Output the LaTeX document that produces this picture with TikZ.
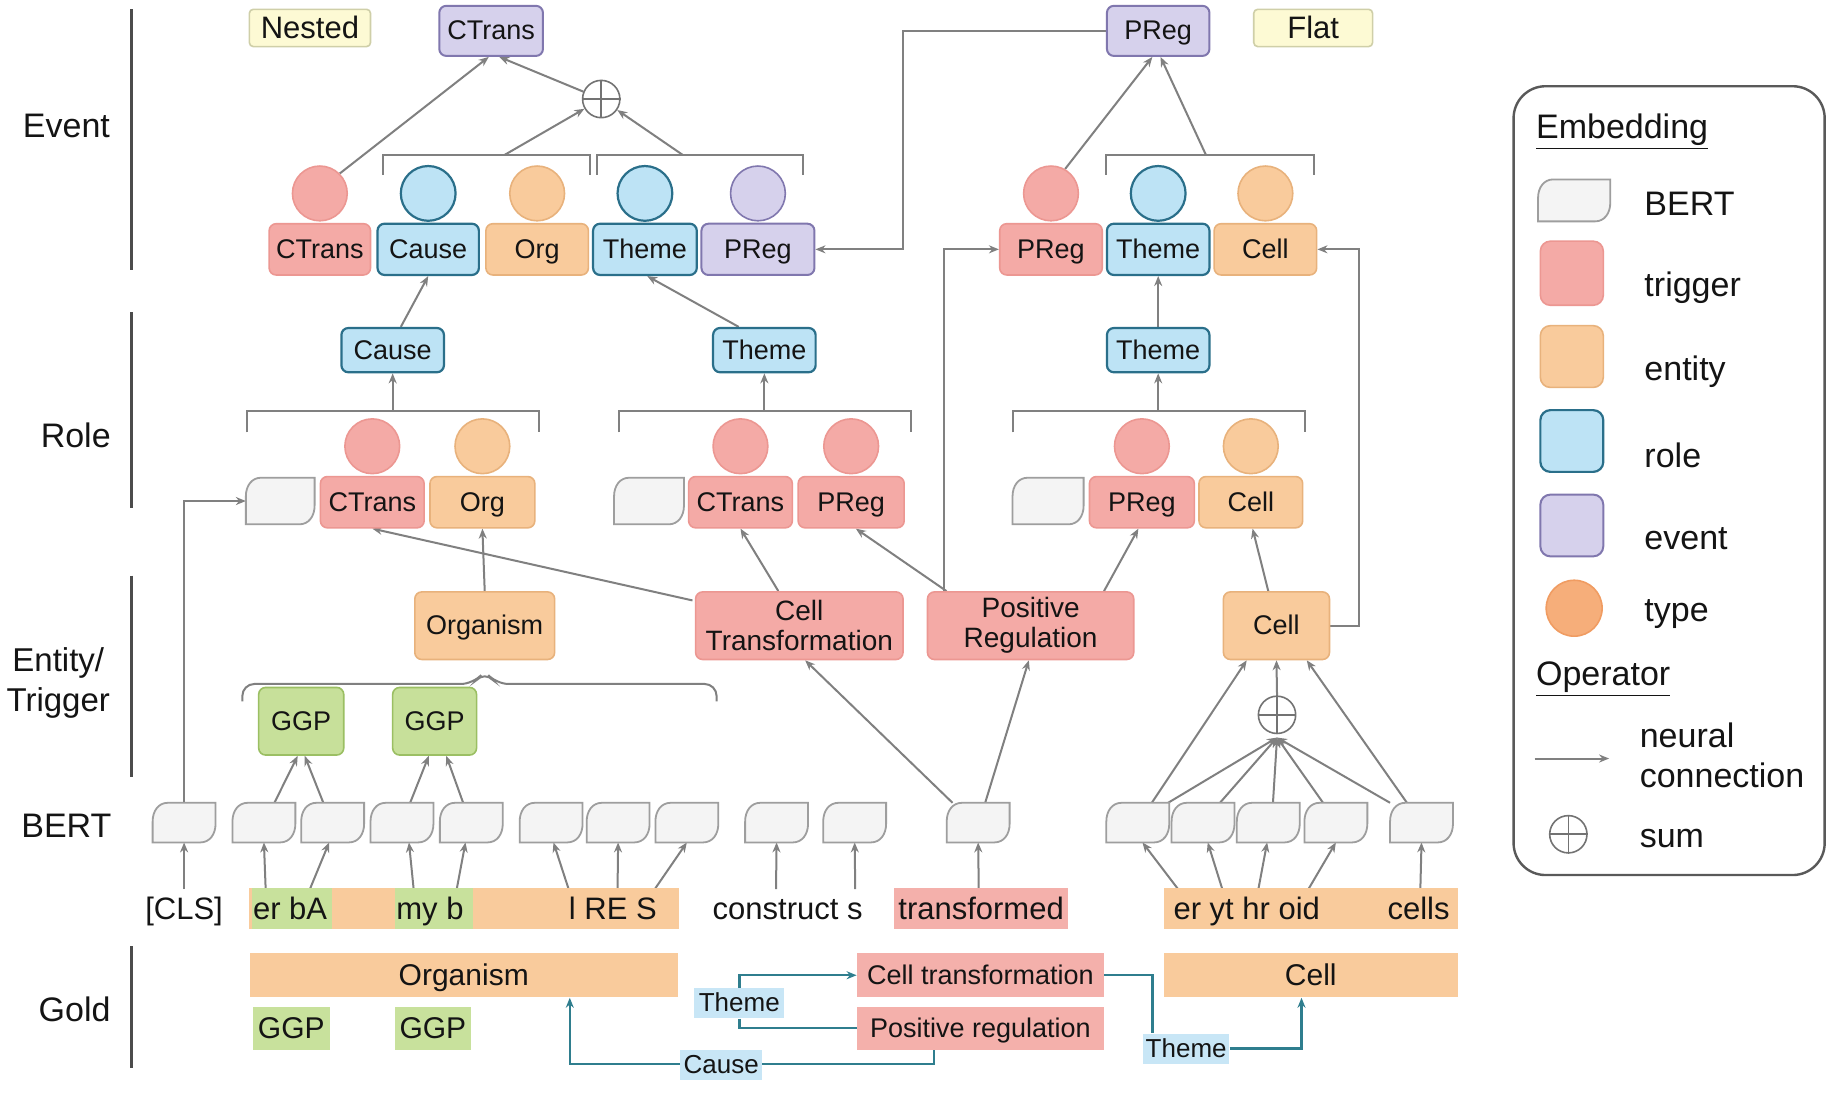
\documentclass[tikz,border=0pt]{standalone}
\usepackage{fontspec}
\setmainfont{Liberation Sans}
\usetikzlibrary{calc,arrows.meta}
\def\PX{0.5826pt}
\definecolor{pinkF}{HTML}{F4AAA6}
\definecolor{pinkD}{HTML}{EC9792}
\definecolor{orangeF}{HTML}{F9CB9C}
\definecolor{orangeD}{HTML}{E8B27C}
\definecolor{blueF}{HTML}{BDE3F5}
\definecolor{blueD}{HTML}{2A6F8A}
\definecolor{purpF}{HTML}{D6D1EC}
\definecolor{purpD}{HTML}{8077AE}
\definecolor{greenF}{HTML}{C7E09A}
\definecolor{greenD}{HTML}{9BBF63}
\definecolor{bertF}{HTML}{F4F4F4}
\definecolor{bertD}{HTML}{9E9E9E}
\definecolor{yellowF}{HTML}{FDFAD4}
\definecolor{yellowD}{HTML}{CFCFA8}
\definecolor{arrowC}{HTML}{808080}
\definecolor{tealC}{HTML}{2F7E8E}
\definecolor{labB}{HTML}{C8E6F6}
\definecolor{goldO}{HTML}{F9CB9C}
\definecolor{goldP}{HTML}{F4B0AB}
\definecolor{goldG}{HTML}{C8E19C}
\definecolor{typeO}{HTML}{F6AE7A}
\definecolor{typeOD}{HTML}{F09C62}
\pgfdeclarelayer{bg}
\pgfsetlayers{bg,main}
\tikzset{
  every node/.style={font=\fontsize{13.5}{15}\selectfont, text=black!92},
  sz/.style 2 args={minimum width=#1*\PX, minimum height=#2*\PX},
  tb/.style={text height=9.4pt, text depth=0.5pt},
  bx/.style={draw, rounded corners=3.5pt, line width=0.8pt, inner sep=0pt, tb},
  trig/.style={bx, fill=pinkF, draw=pinkD},
  ent/.style={bx, fill=orangeF, draw=orangeD},
  rol/.style={bx, fill=blueF, draw=blueD, line width=1.1pt},
  evt/.style={bx, fill=purpF, draw=purpD, line width=1pt},
  ggp/.style={bx, fill=greenF, draw=greenD},
  two/.style={text height={}, text depth={}, align=center, font=\fontsize{14}{15}\selectfont},
  tag/.style={bx, fill=yellowF, draw=yellowD, rounded corners=2pt, font=\fontsize{15.5}{18}\selectfont, text height=10.9pt, text depth=0.6pt},
  tc/.style={circle, draw, inner sep=0pt, minimum size=47*\PX, line width=0.8pt},
  tcP/.style={tc, fill=pinkF, draw=pinkD},
  tcO/.style={tc, fill=orangeF, draw=orangeD},
  tcB/.style={tc, fill=blueF, draw=blueD, line width=1.1pt},
  tcV/.style={tc, fill=purpF, draw=purpD},
  bertst/.style={draw=bertD, fill=bertF, line width=0.9pt},
  sumst/.style={circle, draw=black!55, line width=0.8pt, fill=white, minimum size=32*\PX, inner sep=0pt},
  sumln/.style={draw=black!55, line width=0.8pt},
  arr/.style={draw=arrowC, line width=1pt, -{Stealth[length=5pt,width=4pt]}},
  brk/.style={draw=arrowC, line width=1pt},
  tarr/.style={draw=tealC, line width=1.2pt, -{Stealth[length=5pt,width=4pt]}},
  tln/.style={draw=tealC, line width=1.2pt},
  band/.style={inner sep=0pt, tb},
  wordf/.style={font=\fontsize{15.5}{18}\selectfont, text height=10.9pt, text depth=0.6pt},
  goldf/.style={font=\fontsize{15}{18}\selectfont, text height=10.5pt, text depth=0.6pt},
  glab/.style={inner sep=0pt, fill=labB, font=\fontsize{13}{15}\selectfont, text height=9.1pt, text depth=0.5pt},
  lab/.style={font=\fontsize{17}{20}\selectfont},
  legt/.style={font=\fontsize{17}{20}\selectfont, anchor=west, inner sep=0pt},
  sepl/.style={draw=black!70, line width=1.2pt}
}
% BERT token shape: rounded top-left and bottom-right corners
\newcommand\bertbox[5]{%
  \node[inner sep=0pt, outer sep=0pt, sz={#4}{#5}] (#1) at (#2,#3) {};
  \draw[bertst] (#1.south west) -- ($(#1.north west)+(0,16)$)
     .. controls ($(#1.north west)+(0,7)$) and ($(#1.north west)+(5,0)$) .. ($(#1.north west)+(13,0)$)
     -- (#1.north east) -- ($(#1.south east)+(0,-16)$)
     .. controls ($(#1.south east)+(0,-7)$) and ($(#1.south east)+(-5,0)$) .. ($(#1.south east)+(-13,0)$)
     -- cycle;}
\newcommand\sumnode[3]{%
  \node[sumst] (#1) at (#2,#3) {};
  \draw[sumln] (#1.north) -- (#1.south) (#1.west) -- (#1.east);}
\begin{document}
\begin{tikzpicture}[x=0.5826pt, y=-0.5826pt]
\useasboundingbox (0,0) rectangle (1568,940);
\begin{pgfonlayer}{bg}
\fill[white] (0,0) rectangle (1568,940);
\end{pgfonlayer}

% ---- left labels and separators
\node[lab] (lEvent) at (57,108) {Event};
\node[lab] (lRole) at (65,374) {Role};
\node[lab, align=center, font=\fontsize{16.5}{20}\selectfont] (lEnt) at (50,586) {Entity/\\Trigger};
\node[lab] (lBert) at (57,709) {BERT};
\node[lab] (lGold) at (64,866) {Gold};
\draw[sepl] (113,8) -- (113,232);
\draw[sepl] (113,268) -- (113,436);
\draw[sepl] (113,494) -- (113,667);
\draw[sepl] (113,812) -- (113,917);

% ---- event layer
\node[tag, sz={104}{32}] (nested) at (266,24) {Nested};
\node[tag, sz={102}{32}] (flat) at (1127,24) {Flat};
\node[evt, sz={89}{43}] (evCT) at (421.5,26.5) {CTrans};
\node[evt, sz={88}{43}] (evPR) at (994,26.5) {PReg};
\sumnode{sumA}{516}{85}

\node[tcP] (tc1) at (274.5,166) {};
\node[tcB] (tc2) at (367.5,166) {};
\node[tcO] (tc3) at (461,166) {};
\node[tcB] (tc4) at (553.5,166) {};
\node[tcV] (tc5) at (650.5,166) {};
\node[tcP] (tc6) at (902,166) {};
\node[tcB] (tc7) at (994,166) {};
\node[tcO] (tc8) at (1086,166) {};

\node[trig, sz={87}{44}] (eCT) at (274.5,214) {CTrans};
\node[rol, sz={87}{44}] (eCause) at (367.5,214) {Cause};
\node[ent, sz={88}{44}] (eOrg) at (461,214) {Org};
\node[rol, sz={89}{44}] (eTheme) at (553.5,214) {Theme};
\node[evt, sz={97}{44}] (ePReg) at (650.5,214) {PReg};
\node[trig, sz={88}{44}] (ePReg2) at (902,214) {PReg};
\node[rol, sz={88}{44}] (eTheme2) at (994,214) {Theme};
\node[ent, sz={88}{44}] (eCell) at (1086,214) {Cell};

% ---- role layer
\node[rol, sz={88}{38}] (rCause) at (337,300.5) {Cause};
\node[rol, sz={88}{38}] (rTheme) at (656,300.5) {Theme};
\node[rol, sz={88}{38}] (rTheme2) at (994,300.5) {Theme};

\node[tcP] (rc1) at (319.5,383) {};
\node[tcO] (rc2) at (414,383) {};
\node[tcP] (rc3) at (635.5,383) {};
\node[tcP] (rc4) at (730.5,383) {};
\node[tcP] (rc5) at (980,383) {};
\node[tcO] (rc6) at (1073.5,383) {};

\bertbox{bR1}{240.5}{430}{59}{40}
\node[trig, sz={89}{44}] (rCT1) at (319.5,431) {CTrans};
\node[ent, sz={90}{44}] (rOrg) at (414,431) {Org};
\bertbox{bR2}{557}{430}{60}{40}
\node[trig, sz={89}{44}] (rCT2) at (635.5,431) {CTrans};
\node[trig, sz={91}{44}] (rPR2) at (730.5,431) {PReg};
\bertbox{bR3}{899.5}{430}{61}{40}
\node[trig, sz={90}{44}] (rPR3) at (980,431) {PReg};
\node[ent, sz={89}{44}] (rCell) at (1073.5,431) {Cell};

% ---- entity / trigger layer
\node[ent, sz={120}{58}] (eOrganism) at (416,537) {Organism};
\node[trig, two, sz={178}{58}] (eCTr) at (686,537) {Cell\\Transformation};
\node[trig, two, sz={177}{58}] (ePosR) at (884.5,537) {Positive\\Regulation};
\node[ent, sz={91}{58}] (eCellE) at (1095.5,537) {Cell};
\node[ggp, sz={73}{58}] (ggp1) at (258.5,619) {GGP};
\node[ggp, sz={72}{58}] (ggp2) at (373,619) {GGP};
\sumnode{sumB}{1096}{613.5}

% ---- BERT layer
\bertbox{b0}{158}{706}{54}{34}
\bertbox{b1}{226.5}{706}{54}{34}
\bertbox{b2}{285.5}{706}{54}{34}
\bertbox{b3}{345}{706}{54}{34}
\bertbox{b4}{404.5}{706}{54}{34}
\bertbox{b5}{473}{706}{54}{34}
\bertbox{b6}{530.5}{706}{54}{34}
\bertbox{b7}{589.5}{706}{54}{34}
\bertbox{b8}{666.5}{706}{54}{34}
\bertbox{b9}{733.5}{706}{54}{34}
\bertbox{b10}{839.5}{706}{54}{34}
\bertbox{b11}{976.5}{706}{54}{34}
\bertbox{b12}{1032.5}{706}{54}{34}
\bertbox{b13}{1088.5}{706}{54}{34}
\bertbox{b14}{1146.5}{706}{54}{34}
\bertbox{b15}{1220}{706}{54}{34}

% ---- words
\node[band, fill=goldO, sz={369}{35}] (wb1) at (398.5,780) {};
\node[band, fill=goldG, sz={69}{35}] (wg1) at (250.5,780) {};
\node[band, fill=goldG, sz={67}{35}] (wg2) at (372.5,780) {};
\node[band, fill=goldO, sz={252}{35}] (wb2) at (1125,780) {};
\node[wordf] (wCLS) at (158,780.5) {[CLS]};
\node[wordf] (wErbA) at (249,780.5) {er bA};
\node[wordf] (wMyb) at (369,780.5) {my b};
\node[wordf] (wLRES) at (526,780.5) {l RE S};
\node[wordf] (wCons) at (676,780.5) {construct s};
\node[band, wordf, fill=goldP, sz={150}{35}] (wTr) at (842,780) {transformed};
\node[wordf] (wEryt) at (1070,780.5) {er yt hr oid};
\node[wordf] (wCells) at (1217.5,780.5) {cells};

% ---- gold
\node[band, goldf, fill=goldO, sz={367}{38}] (gOrg) at (398,837) {Organism};
\node[band, goldf, fill=goldG, sz={66}{37}] (gG1) at (250,882.5) {GGP};
\node[band, goldf, fill=goldG, sz={65}{37}] (gG2) at (371.5,882.5) {GGP};
\node[band, fill=goldP, sz={212}{38}] (gCT) at (841.5,837) {Cell transformation};
\node[band, fill=goldP, sz={212}{37}] (gPR) at (841.5,882.5) {Positive regulation};
\node[band, goldf, fill=goldO, sz={252}{38}] (gCell) at (1125,837) {Cell};
\node[glab, sz={77}{26}] (thL) at (634.5,861) {Theme};
\node[glab, sz={70}{26}] (cau) at (619,914) {Cause};
\node[glab, sz={74}{26}] (thR) at (1018,900) {Theme};

% ---- legend
\draw[draw=black!65, line width=1.2pt, rounded corners=16pt] (1299,74) rectangle (1566,751);
\node[legt] (lgEmb) at (1318,113) {\underline{Embedding}};
\bertbox{lgBert}{1351}{172}{62}{36}
\node[legt] (lgBertT) at (1411,175) {BERT};
\node[trig, sz={54}{55}, rounded corners=5pt] (lgTrig) at (1349,234.5) {};
\node[legt] (lgTrigT) at (1411,247) {trigger};
\node[ent, sz={54}{53}, rounded corners=5pt] (lgEnt) at (1349,306) {};
\node[legt] (lgEntT) at (1411,319) {entity};
\node[rol, sz={54}{53}, rounded corners=5pt] (lgRol) at (1349,378.5) {};
\node[legt] (lgRolT) at (1411,391) {role};
\node[evt, sz={54}{53}, rounded corners=5pt] (lgEvt) at (1349,451) {};
\node[legt] (lgEvtT) at (1411,462) {event};
\node[circle, fill=typeO, draw=typeOD, line width=0.8pt, minimum size=48*\PX, inner sep=0pt] (lgType) at (1351,522) {};
\node[legt] (lgTypeT) at (1411,527) {type};
\node[legt] (lgOp) at (1318,583) {\underline{Operator}};
\coordinate (lgA1) at (1317,651);
\coordinate (lgA2) at (1381,651);
\node[legt, align=left] (lgNeu) at (1407,648) {neural\\connection};
\sumnode{lgSum}{1346}{716}
\node[legt] (lgSumT) at (1407,720) {sum};

% ---- connectors
\begin{pgfonlayer}{bg}
% event
\coordinate (bkA) at (433,133);
\coordinate (bkB) at (586,133);
\coordinate (bkC) at (1035,133);
\draw[brk] (329,150) -- (329,133) -- (506,133) -- (506,150);
\draw[brk] (512,150) -- (512,133) -- (689,133) -- (689,150);
\draw[brk] (949,150) -- (949,133) -- (1128,133) -- (1128,150);
\draw[arr] (tc1.45) -- ($(evCT.south)+(-2,0)$);
\draw[arr] (sumA) -- ($(evCT.south)+(7,0)$);
\draw[arr] (bkA) -- (sumA);
\draw[arr] (bkB) -- (sumA);
\draw[arr] (bkC) -- ($(evPR.south)+(2,0)$);
\draw[arr] (tc6.60) -- ($(evPR.south)+(-5,0)$);
\draw[arr] (evPR.west) -- ++(-174,0) |- (ePReg.east);
% role
\draw[arr] ($(rCause.north)+(7,0)$) -- (eCause.south);
\draw[arr] ($(rTheme.north)+(-22,0)$) -- ($(eTheme.south)+(2,0)$);
\draw[arr] (rTheme2.north) -- (eTheme2.south);
\coordinate (bkD) at (337,353);
\coordinate (bkE) at (656,353);
\coordinate (bkF) at (994,353);
\draw[brk] (212,371) -- (212,353) -- (463,353) -- (463,371);
\draw[brk] (531,371) -- (531,353) -- (782,353) -- (782,371);
\draw[brk] (869,371) -- (869,353) -- (1120,353) -- (1120,371);
\draw[arr] (bkD) -- (rCause.south);
\draw[arr] (bkE) -- (rTheme.south);
\draw[arr] (bkF) -- (rTheme2.south);
% entity
\draw[arr] (eOrganism.north) -- (rOrg.south);
\draw[arr] ($(eCTr.north west)+(-2,8)$) -- (rCT1.south);
\draw[arr] ($(eCTr.north)+(-18,0)$) -- (rCT2.south);
\draw[arr] ($(ePosR.north west)+(17,0)$) -- ($(rPR2.south)+(4,0)$);
\draw[arr] ($(ePosR.north)+(63,0)$) -- ($(rPR3.south)+(-3,0)$);
\draw[arr] ($(ePosR.north west)+(15,0)$) |- (ePReg2.west);
\draw[arr] ($(eCellE.north)+(-7,0)$) -- ($(rCell.south)+(1.5,0)$);
\draw[arr] (eCellE.east) -- ++(25,0) |- (eCell.east);
\draw[brk, rounded corners=6pt] (208,602) -- (208,587) -- (406,587) -- (416,576) -- (426,587) -- (615,587) -- (615,602);
% GGP
\draw[arr] ($(b1.north)+(9,0)$) -- ($(ggp1.south)+(-3,0)$);
\draw[arr] ($(b2.north)+(-8,0)$) -- ($(ggp1.south)+(3,0)$);
\draw[arr] ($(b3.north)+(7,0)$) -- ($(ggp2.south)+(-5,0)$);
\draw[arr] ($(b4.north)+(-7,0)$) -- ($(ggp2.south)+(10,0)$);
\draw[arr] (b0.north) |- (bR1.west);
% transformed
\draw[arr] ($(b10.north)+(-22,0)$) -- ($(eCTr.south)+(5,0)$);
\draw[arr] ($(b10.north)+(6,0)$) -- ($(ePosR.south)+(-1.5,0)$);
% cell sum
\coordinate (jB) at (1096,633);
\draw[arr] ($(b11.north)+(26,0)$) -- (jB);
\draw[arr] ($(b12.north)+(14.5,0)$) -- (jB);
\draw[arr] ($(b13.north)+(4,0)$) -- (jB);
\draw[arr] ($(b14.north)+(-11,0)$) -- (jB);
\draw[arr] ($(b15.north)+(-27,0)$) -- (jB);
\draw[arr] ($(b11.north)+(12,0)$) -- ($(eCellE.south)+(-25.5,0)$);
\draw[arr] ($(b15.north)+(-12.5,0)$) -- ($(eCellE.south)+(26,0)$);
\draw[arr] (sumB.north) -- (eCellE.south);
% words -> BERT
\coordinate (u0) at (158,763);
\coordinate (u1) at (228,763);
\coordinate (u2) at (266,763);
\coordinate (u3) at (355,763);
\coordinate (u4) at (392,763);
\coordinate (u5) at (488,763);
\coordinate (u6) at (530,763);
\coordinate (u7) at (562,763);
\coordinate (u8) at (666,763);
\coordinate (u9) at (734,763);
\coordinate (u10) at (840,763);
\coordinate (u11) at (1011,763);
\coordinate (u12) at (1049,763);
\coordinate (u13) at (1080,763);
\coordinate (u14) at (1123,763);
\coordinate (u15) at (1219,763);
\draw[arr] (u0) -- (b0.south);
\draw[arr] (u1) -- (b1.south);
\draw[arr] (u2) -- ($(b2.south)+(-3,0)$);
\draw[arr] (u3) -- ($(b3.south)+(6,0)$);
\draw[arr] (u4) -- ($(b4.south)+(-5,0)$);
\draw[arr] (u5) -- ($(b5.south)+(2,0)$);
\draw[arr] (u6) -- (b6.south);
\draw[arr] (u7) -- (b7.south);
\draw[arr] (u8) -- (b8.south);
\draw[arr] (u9) -- (b9.south);
\draw[arr] (u10) -- (b10.south);
\draw[arr] (u11) -- ($(b11.south)+(4,0)$);
\draw[arr] (u12) -- ($(b12.south)+(4,0)$);
\draw[arr] (u13) -- ($(b13.south)+(-1,0)$);
\draw[arr] (u14) -- (b14.south);
\draw[arr] (u15) -- (b15.south);
% gold
\draw[tarr] (thL.north) |- (gCT.west);
\draw[tln] (thL.south) |- (gPR.west);
\draw[tarr] ($(gPR.south)+(-40,0)$) -- ++(0,12) -| ($(gOrg.south)+(91,0)$);
\draw[tln] (gCT.east) -| ($(thR.north)+(-29,0)$);
\draw[tarr] (thR.east) -| ($(gCell.south)+(-8,0)$);
% legend arrow
\draw[arr] (lgA1) -- (lgA2);
\end{pgfonlayer}
\end{tikzpicture}
\end{document}
